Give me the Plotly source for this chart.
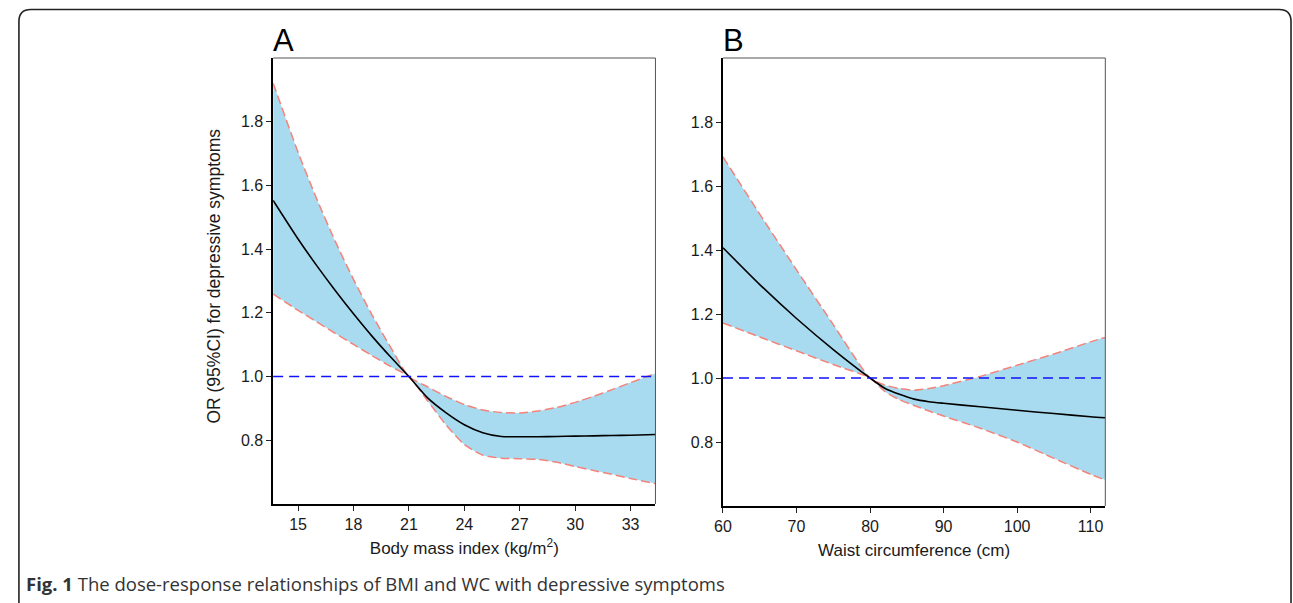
import plotly.graph_objects as go

# ---------------- data ----------------
bmi_x = [13.65, 15, 16, 17, 18, 19, 20, 21, 22, 23, 24, 25, 26, 27, 28, 29, 30, 31, 32, 33, 34.35]
bmi_or = [1.553, 1.432, 1.349, 1.271, 1.197, 1.127, 1.062, 1.0, 0.934, 0.887, 0.849, 0.824, 0.812,
          0.811, 0.811, 0.812, 0.813, 0.814, 0.815, 0.816, 0.818]
bmi_lo = [1.259, 1.208, 1.172, 1.136, 1.101, 1.066, 1.032, 1.0, 0.925, 0.849, 0.787, 0.753, 0.744,
          0.742, 0.740, 0.731, 0.718, 0.705, 0.693, 0.680, 0.664]
bmi_hi = [1.921, 1.704, 1.559, 1.426, 1.305, 1.194, 1.093, 1.0, 0.968, 0.938, 0.912, 0.895, 0.887,
          0.886, 0.892, 0.903, 0.919, 0.938, 0.959, 0.981, 1.010]

wc_x = [60, 65, 70, 75, 80, 82, 84, 86, 88, 90, 95, 100, 105, 110, 112]
wc_or = [1.407, 1.292, 1.186, 1.089, 1.0, 0.968, 0.949, 0.934, 0.926, 0.921, 0.910, 0.899, 0.889, 0.879, 0.876]
wc_lo = [1.172, 1.128, 1.085, 1.042, 1.0, 0.958, 0.932, 0.914, 0.897, 0.881, 0.843, 0.800, 0.749, 0.699, 0.681]
wc_hi = [1.691, 1.512, 1.338, 1.167, 1.0, 0.978, 0.967, 0.962, 0.967, 0.976, 1.005, 1.040, 1.075, 1.113, 1.127]

ref_or = 1.0
y_ticks = [0.8, 1.0, 1.2, 1.4, 1.6, 1.8]
bmi_ticks = [15, 18, 21, 24, 27, 30, 33]
wc_ticks = [60, 70, 80, 90, 100, 110]

# ---------------- styling ----------------
W, H = 1293, 603
FILL = "#A8DBEF"
CI = "#F4837B"
AX_FONT = "Liberation Sans, Arial, sans-serif"

fig = go.Figure()


def add_panel(x, lo, hi, mid, xa, ya):
    common = dict(xaxis=xa, yaxis=ya, showlegend=False, hoverinfo="skip", mode="lines")
    sp = dict(shape="spline", smoothing=0.6)
    fig.add_trace(go.Scatter(x=x, y=lo, line=dict(width=0, **sp), **common))
    fig.add_trace(go.Scatter(x=x, y=hi, line=dict(width=0, **sp), fill="tonexty",
                             fillcolor=FILL, **common))
    fig.add_trace(go.Scatter(x=x, y=lo, line=dict(color=CI, width=1.5, dash="9px,4px", **sp), **common))
    fig.add_trace(go.Scatter(x=x, y=hi, line=dict(color=CI, width=1.5, dash="9px,4px", **sp), **common))
    fig.add_trace(go.Scatter(x=x, y=mid, line=dict(color="black", width=1.6, **sp), **common))


add_panel(bmi_x, bmi_lo, bmi_hi, bmi_or, "x", "y")
add_panel(wc_x, wc_lo, wc_hi, wc_or, "x2", "y2")


def px(v):
    return v / W


def py(v):
    return 1 - v / H


axis_common = dict(showgrid=False, zeroline=False, showline=True, linecolor="black", linewidth=1.5,
                   ticks="outside", ticklen=5, tickwidth=1, tickcolor="#222",
                   tickfont=dict(family=AX_FONT, size=16, color="#1a1a1a"))

fig.update_layout(
    width=W, height=H,
    margin=dict(l=0, r=0, t=0, b=0),
    paper_bgcolor="white", plot_bgcolor="white",
    xaxis=dict(domain=[px(266), px(651)], range=[13.65, 34.35], tickvals=bmi_ticks, anchor="y",
               title=dict(text="Body mass index (kg/m<sup>2</sup>)", standoff=10,
                          font=dict(family=AX_FONT, size=17, color="#1a1a1a")),
               **axis_common),
    yaxis=dict(domain=[py(504), py(58)], range=[0.6, 2.0], tickvals=y_ticks, tickformat=".1f",
               anchor="x", **axis_common),
    xaxis2=dict(domain=[px(719), px(1104)], range=[60, 112], tickvals=wc_ticks, anchor="y2",
                title=dict(text="Waist circumference (cm)", standoff=10,
                           font=dict(family=AX_FONT, size=17, color="#1a1a1a")),
                **axis_common),
    yaxis2=dict(domain=[py(506), py(58)], range=[0.6, 2.0], tickvals=y_ticks, tickformat=".1f",
                anchor="x2", **axis_common),
)

shapes = []
for xr, yr in (("x", "y"), ("x2", "y2")):
    # reference line OR = 1
    shapes.append(dict(type="line", xref=f"{xr} domain", yref=yr, x0=0, x1=1, y0=ref_or, y1=ref_or,
                       line=dict(color="#1010FF", width=1.5, dash="10px,6px"), layer="above"))
    # top and right panel border
    shapes.append(dict(type="line", xref=f"{xr} domain", yref=f"{yr} domain", x0=0, x1=1, y0=1, y1=1,
                       line=dict(color="#555", width=1)))
    shapes.append(dict(type="line", xref=f"{xr} domain", yref=f"{yr} domain", x0=1, x1=1, y0=0, y1=1,
                       line=dict(color="#555", width=1)))

# rounded outer frame
L, T, R, rr = 10, 9.5, 1291, 12
path = (f"M {px(L)} {py(H + 20)} L {px(L)} {py(T + rr)} Q {px(L)} {py(T)} {px(L + rr)} {py(T)} "
        f"L {px(R - rr)} {py(T)} Q {px(R)} {py(T)} {px(R)} {py(T + rr)} L {px(R)} {py(H + 20)}")
shapes.append(dict(type="path", xref="paper", yref="paper", path=path,
                   line=dict(color="#222", width=1.6)))
fig.update_layout(shapes=shapes)

annotations = [
    dict(text="A", x=px(264), y=py(40), xref="paper", yref="paper", xanchor="left", yanchor="middle",
         showarrow=False, font=dict(family=AX_FONT, size=31, color="black")),
    dict(text="B", x=px(717), y=py(40), xref="paper", yref="paper", xanchor="left", yanchor="middle",
         showarrow=False, font=dict(family=AX_FONT, size=31, color="black")),
    dict(text="OR (95%CI) for depressive symptoms", textangle=-90,
         x=px(206), y=py(276), xref="paper", yref="paper", xanchor="center", yanchor="middle",
         showarrow=False, font=dict(family=AX_FONT, size=17.5, color="#1a1a1a")),
    dict(text="<b>Fig. 1</b> The dose-response relationships of BMI and WC with depressive symptoms",
         x=px(15), y=py(583), xref="paper", yref="paper", xanchor="left", yanchor="middle",
         showarrow=False, font=dict(family="Open Sans, sans-serif", size=18.5, color="#333")),
]
fig.update_layout(annotations=annotations)

fig.write_html("out.html", config={"displayModeBar": False},
               post_script="document.body.style.margin='0px';")
